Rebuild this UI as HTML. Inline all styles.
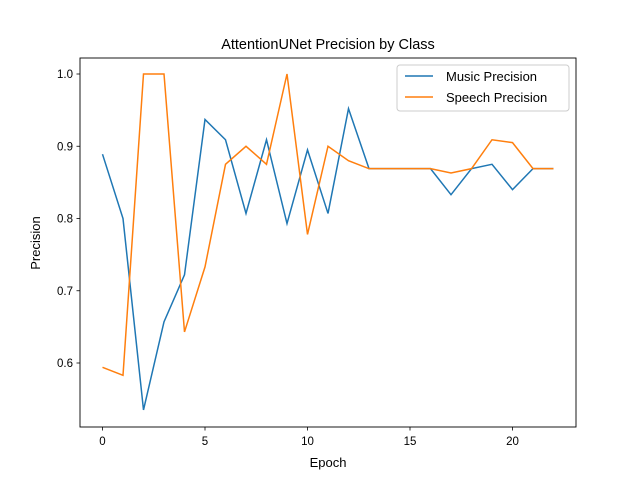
<!DOCTYPE html>
<html><head><meta charset="utf-8"><style>
body{margin:0;background:#fff;}
svg{font-family:"Liberation Sans","DejaVu Sans",sans-serif;}
</style></head><body>
<svg id="chart" width="640" height="480">
<rect width="640" height="480" fill="#fff"/>
<text x="328" y="49" text-anchor="middle" font-size="14.5">AttentionUNet Precision by Class</text>
<g id="axes"></g>
<g id="lines"></g>
<rect x="80" y="58" width="496" height="369" fill="none" stroke="#000" stroke-width="0.9"/>
<text x="328" y="467" text-anchor="middle" font-size="13">Epoch</text>
<text transform="translate(40,243) rotate(-90)" text-anchor="middle" font-size="13">Precision</text>
<g>
<rect x="397" y="65" width="172" height="46" fill="#fff" stroke="#ccc" rx="3"/>
<line x1="405" y1="76" x2="433" y2="76" stroke="#1f77b4" stroke-width="1.5"/>
<text x="446" y="81" font-size="13">Music Precision</text>
<line x1="405" y1="97" x2="433" y2="97" stroke="#ff7f0e" stroke-width="1.5"/>
<text x="446" y="102" font-size="13">Speech Precision</text>
</g>
</svg>
<script>
const epochs=[0,1,2,3,4,5,6,7,8,9,10,11,12,13,14,15,16,17,18,19,20,21,22];
const musicPrecision=[0.889,0.80,0.535,0.657,0.722,0.937,0.909,0.807,0.909,0.793,0.895,0.807,0.952,0.869,0.869,0.869,0.869,0.833,0.869,0.875,0.840,0.869,0.869];
const speechPrecision=[0.594,0.583,1.0,1.0,0.643,0.733,0.875,0.900,0.875,1.0,0.778,0.900,0.880,0.869,0.869,0.869,0.869,0.863,0.869,0.909,0.905,0.869,0.869];
const xTicks=[0,5,10,15,20];
const yTicks=[0.6,0.7,0.8,0.9,1.0];
const NS="http://www.w3.org/2000/svg";
const xs=v=>102.5+v*20.5;
const ys=v=>74+(1-v)*722.5;
const axes=document.getElementById('axes');
function mk(tag,attrs,parent){const e=document.createElementNS(NS,tag);for(const k in attrs)e.setAttribute(k,attrs[k]);parent.appendChild(e);return e;}
xTicks.forEach(t=>{
 const l=mk('line',{x1:xs(t),x2:xs(t),y1:427,y2:430.5,stroke:'#000','stroke-width':0.8},axes);
 
 
 const tx=mk('text',{x:xs(t),y:445,'text-anchor':'middle','font-size':11.5},axes);
 tx.textContent=t;
 
 
});
yTicks.forEach(t=>{
 const l=mk('line',{x1:76.5,x2:80,y1:ys(t),y2:ys(t),stroke:'#000','stroke-width':0.8},axes);
 
 
 const tx=mk('text',{x:73,y:ys(t)+4,'text-anchor':'end','font-size':11.5},axes);
 tx.textContent=t.toFixed(1);
 
 
});
const lines=document.getElementById('lines');
const m=mk('polyline',{points:epochs.map((e,i)=>xs(e)+','+ys(musicPrecision[i])).join(' '),fill:'none',stroke:'#1f77b4','stroke-width':1.5},lines);


const s=mk('polyline',{points:epochs.map((e,i)=>xs(e)+','+ys(speechPrecision[i])).join(' '),fill:'none',stroke:'#ff7f0e','stroke-width':1.5},lines);


</script>
</body></html>
